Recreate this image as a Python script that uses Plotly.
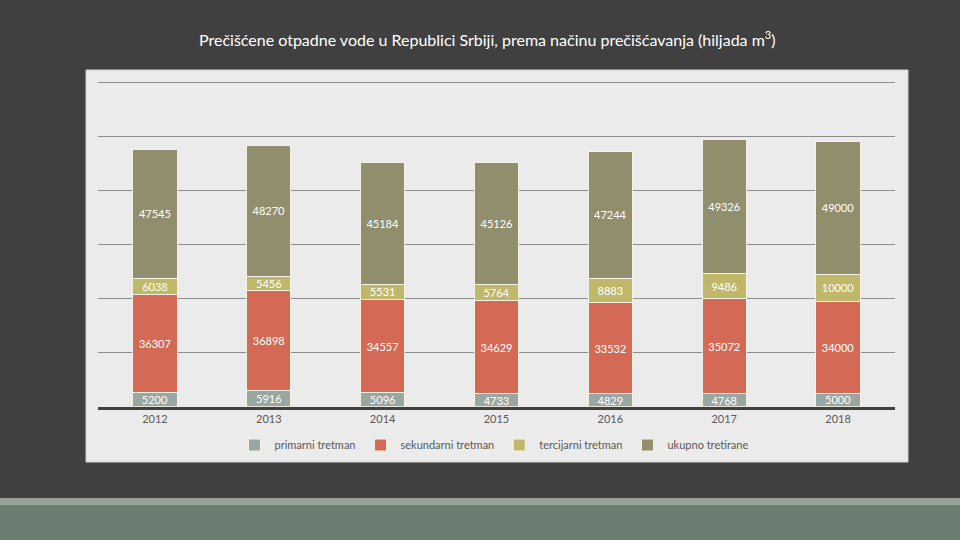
import plotly.graph_objects as go

years = ["2012", "2013", "2014", "2015", "2016", "2017", "2018"]
primarni = [5200, 5916, 5096, 4733, 4829, 4768, 5000]
sekundarni = [36307, 36898, 34557, 34629, 33532, 35072, 34000]
tercijarni = [6038, 5456, 5531, 5764, 8883, 9486, 10000]
ukupno = [47545, 48270, 45184, 45126, 47244, 49326, 49000]
grid_ticks = [20000, 40000, 60000, 80000, 100000, 120000]

series = [
    ("primarni tretman", primarni, "#9AA6A2"),
    ("sekundarni tretman", sekundarni, "#D46A56"),
    ("tercijarni tretman", tercijarni, "#BFB86B"),
    ("ukupno tretirane", ukupno, "#918E6E"),
]

FONT = "Lato, 'DejaVu Sans', sans-serif"

fig = go.Figure()
for name, vals, col in series:
    fig.add_trace(go.Bar(
        x=years, y=vals, name=name,
        marker=dict(color=col, line=dict(color="#F4F2E4", width=1)),
        text=[str(v) for v in vals],
        textposition="inside", insidetextanchor="middle", textangle=0,
        textfont=dict(color="white", size=11, family=FONT),
        hoverinfo="skip",
    ))

W, H = 960, 540
def px(x):
    return x / W
def py(y):
    return 1 - y / H

shapes = [
    # chart box
    dict(type="rect", xref="paper", yref="paper", x0=px(86), x1=px(908), y0=py(462), y1=py(70),
         fillcolor="#EBEBEB", line=dict(color="#D0D0D0", width=1), layer="below"),
    # bottom band
    dict(type="rect", xref="paper", yref="paper", x0=0, x1=1, y0=0, y1=py(498),
         fillcolor="#6B7D71", line=dict(width=0), layer="below"),
    dict(type="rect", xref="paper", yref="paper", x0=0, x1=1, y0=py(505), y1=py(498),
         fillcolor="#95A398", line=dict(width=0), layer="below"),
]

y_bottom = 406.7
ppu = (406.7 - 82.0) / 120000.0
y_max = 121500
y_top = y_bottom - y_max * ppu

fig.update_layout(
    width=W, height=H, autosize=False,
    paper_bgcolor="#404040", plot_bgcolor="rgba(0,0,0,0)",
    margin=dict(l=0, r=0, t=0, b=0),
    barmode="stack", bargap=0.61,
    font=dict(family=FONT, color="#595959", size=11),
    shapes=shapes,
    uniformtext=dict(minsize=11, mode="show"),
    showlegend=True,
    legend=dict(orientation="h", x=px(494), xanchor="center", y=py(445), yanchor="middle",
                font=dict(size=11, color="#595959", family=FONT), bgcolor="rgba(0,0,0,0)",
                itemwidth=30, traceorder="normal"),
    annotations=[dict(
        text="Prečišćene otpadne vode u Republici Srbiji, prema načinu prečišćavanja (hiljada m<sup>3</sup>)",
        xref="paper", yref="paper", x=px(487), y=py(38), xanchor="center", yanchor="middle",
        showarrow=False, font=dict(size=16, color="white", family=FONT),
    )],
    xaxis=dict(domain=[px(98), px(895)], showline=True, linecolor="#404040", linewidth=3,
               ticks="", showgrid=False, tickfont=dict(size=11, color="#595959")),
    yaxis=dict(domain=[py(y_bottom), py(y_top)], range=[0, y_max], tickvals=grid_ticks,
               showgrid=True, gridcolor="#8C8C8C", gridwidth=1, showticklabels=False,
               zeroline=False, ticks=""),
)

fig.write_html(
    "out.html",
    config={"displayModeBar": False},
    post_script="document.body.style.margin='0';document.body.style.background='#404040';document.body.style.overflow='hidden';",
)
